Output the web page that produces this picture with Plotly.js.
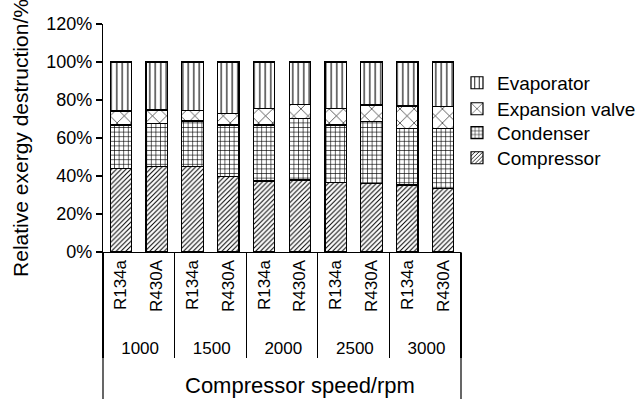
<!DOCTYPE html>
<html>
<head>
<meta charset="utf-8">
<script src="https://cdn.plot.ly/plotly-3.0.1.min.js"></script>
<style>html,body{margin:0;padding:0;background:#fff;}#chart{width:643px;height:399px;}</style>
</head>
<body>
<div id="chart"></div>
<script>
const speeds = ["1000","1000","1500","1500","2000","2000","2500","2500","3000","3000"];
const refrigerants = ["R134a","R430A","R134a","R430A","R134a","R430A","R134a","R430A","R134a","R430A"];
const compressor = [44.0, 44.9, 44.9, 39.6, 37.4, 37.9, 36.5, 36.1, 35.3, 33.5];
const condenser = [22.8, 22.8, 24.0, 27.2, 29.4, 32.5, 30.3, 32.5, 29.8, 31.6];
const expansionValve = [7.4, 7.0, 5.7, 6.2, 8.8, 7.3, 8.8, 8.8, 11.7, 11.4];
const evaporator = [25.8, 25.3, 25.4, 27.0, 24.4, 22.3, 24.4, 22.6, 23.2, 23.5];
const yTickVals = [0, 20, 40, 60, 80, 100, 120];
const yTickText = ["0%","20%","40%","60%","80%","100%","120%"];

const font = "Liberation Sans, Arial, sans-serif";
const innerLabels = refrigerants.map(r => "\u2002" + r);
const outerLabels = speeds.map(s => "\u2002" + s);
function mk(name, vals, shape, size, solidity, legendId) {
  return {
    type: "bar", name: name, legend: legendId,
    x: [outerLabels, innerLabels], y: vals,
    marker: {
      color: "#ffffff",
      line: {color: "#000000", width: 1.2},
      pattern: {shape: shape, fgcolor: "#000000", bgcolor: "#ffffff", size: size, solidity: solidity, fillmode: "replace"}
    },
    hoverinfo: "skip"
  };
}
const data = [
  mk("Compressor", compressor, "/", 3.4, 0.3, "legend4"),
  mk("Condenser", condenser, "+", 4.6, 0.25, "legend3"),
  mk("Expansion valve", expansionValve, "x", 10, 0.12, "legend2"),
  mk("Evaporator", evaporator, "|", 5.5, 0.2, "legend")
];
function leg(y) {
  return {x: 0.9888, y: y, xanchor: "left", yanchor: "top", bgcolor: "rgba(0,0,0,0)",
          font: {family: font, size: 19, color: "#000"}, itemwidth: 30};
}
const layout = {
  width: 643, height: 399,
  margin: {l: 103, r: 182, t: 24, b: 147, autoexpand: false},
  paper_bgcolor: "#fff", plot_bgcolor: "#fff",
  barmode: "stack", bargap: 0.4,
  showlegend: true,
  font: {family: font, size: 17, color: "#000"},
  legend: leg(0.825), legend2: leg(0.711), legend3: leg(0.606), legend4: leg(0.496),
  xaxis: {
    type: "multicategory",
    showline: true, linecolor: "#000", linewidth: 1.2,
    ticks: "", tickangle: -90,
    tickfont: {family: font, size: 17, color: "#000"},
    showdividers: true, dividercolor: "#000", dividerwidth: 1.2,
    showgrid: false, zeroline: false
  },
  yaxis: {
    range: [0, 120], tickvals: yTickVals, ticktext: yTickText,
    showline: true, linecolor: "#000", linewidth: 1.2,
    ticks: "outside", ticklen: 6, tickcolor: "#000", tickwidth: 1.2,
    tickfont: {family: font, size: 18, color: "#000"},
    showgrid: false, zeroline: false,
    title: {text: "Relative exergy destruction/%", font: {family: font, size: 21, color: "#000"}, standoff: 11}
  },
  annotations: [
    {text: "Compressor speed/rpm", xref: "paper", yref: "paper", x: 0.5503, y: -0.5877,
     xanchor: "center", yanchor: "middle", showarrow: false,
     font: {family: font, size: 22, color: "#000"}}
  ],
  shapes: [
    {type: "line", xref: "paper", yref: "paper", x0: 0, x1: 0, y0: 0, y1: -0.66, line: {color: "#000", width: 1.2}},
    {type: "line", xref: "paper", yref: "paper", x0: 1, x1: 1, y0: 0, y1: -0.66, line: {color: "#000", width: 1.2}}
  ]
};
Plotly.newPlot("chart", data, layout, {displayModeBar: false, staticPlot: true});
</script>
</body>
</html>
